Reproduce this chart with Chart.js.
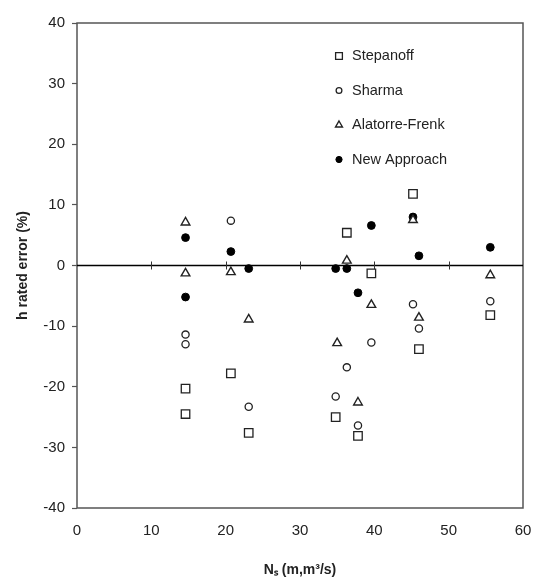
<!DOCTYPE html>
<html>
<head>
<meta charset="utf-8">
<script src="https://cdn.jsdelivr.net/npm/chart.js@4/dist/chart.umd.min.js"></script>
<style>
  html, body { margin: 0; padding: 0; background: #fff; }
  #wrap { width: 534px; height: 579px; }
</style>
</head>
<body>
<div id="wrap"><canvas id="c"></canvas></div>
<script>
'use strict';

// --- data ---
const nsValues      = [14.6, 14.6, 20.7, 23.1, 34.8, 36.3, 37.8, 39.6, 45.2, 46.0, 55.6];
const stepanoff     = [-20.3, -24.5, -17.8, -27.6, -25.0, 5.4, -28.1, -1.3, 11.8, -13.8, -8.2];
const sharmaNs      = [14.6, 14.6, 20.7, 23.1, 34.8, 36.3, 37.8, 39.6, 45.2, 46.0, 55.6];
const sharma        = [-11.4, -13.0, 7.4, -23.3, -21.6, -16.8, -26.4, -12.7, -6.4, -10.4, -5.9];
const alatorreNs    = [14.6, 14.6, 20.7, 23.1, 35.0, 36.3, 37.8, 39.6, 45.2, 46.0, 55.6];
const alatorre      = [7.1, -1.3, -1.1, -8.9, -12.8, 0.8, -22.6, -6.5, 7.5, -8.6, -1.6];
const newApproach   = [4.6, -5.2, 2.3, -0.5, -0.5, -0.5, -4.5, 6.6, 8.0, 1.6, 3.0];
const seriesNames   = ['Stepanoff', 'Sharma', 'Alatorre-Frenk', 'New Approach'];
const xTicks        = [0, 10, 20, 30, 40, 50, 60];
const yTicks        = [-40, -30, -20, -10, 0, 10, 20, 30, 40];

const pts = (xs, ys) => xs.map((x, i) => ({ x, y: ys[i] }));

const INK = '#222';
const FONT = '"Liberation Sans", Arial, sans-serif';

const datasets = [
  { label: seriesNames[0], data: pts(nsValues, stepanoff),   pointStyle: 'rect',     pointRadius: 6,   backgroundColor: '#fff', borderColor: INK, borderWidth: 1.3 },
  { label: seriesNames[1], data: pts(sharmaNs, sharma),      pointStyle: 'circle',   pointRadius: 3.6, backgroundColor: '#fff', borderColor: INK, borderWidth: 1.3 },
  { label: seriesNames[2], data: pts(alatorreNs, alatorre),  pointStyle: 'triangle', pointRadius: 5,   backgroundColor: '#fff', borderColor: INK, borderWidth: 1.4 },
  { label: seriesNames[3], data: pts(nsValues, newApproach), pointStyle: 'circle',   pointRadius: 3.9, backgroundColor: '#000', borderColor: '#000', borderWidth: 1 },
];

// frame box, zero line with ticks, and the in-plot legend
const decorations = {
  id: 'decorations',
  beforeDatasetsDraw(chart) {
    const { ctx, chartArea: a, scales: { x, y } } = chart;
    ctx.save();
    // box
    ctx.strokeStyle = '#555';
    ctx.lineWidth = 1.5;
    ctx.strokeRect(a.left, a.top, a.right - a.left, a.bottom - a.top);
    // zero line
    const y0 = y.getPixelForValue(0);
    ctx.strokeStyle = '#000';
    ctx.lineWidth = 1.4;
    ctx.beginPath();
    ctx.moveTo(a.left, y0);
    ctx.lineTo(a.right, y0);
    ctx.stroke();
    ctx.lineWidth = 1;
    ctx.strokeStyle = '#333';
    xTicks.slice(1, -1).forEach(v => {
      const px = Math.round(x.getPixelForValue(v)) + 0.5;
      ctx.beginPath();
      ctx.moveTo(px, y0 - 4);
      ctx.lineTo(px, y0 + 4);
      ctx.stroke();
    });
    ctx.restore();
  },
  afterDatasetsDraw(chart) {
    const { ctx, chartArea: a } = chart;
    const mx = a.left + 262, tx = mx + 13;
    let ry = a.top + 33;
    ctx.save();
    ctx.font = '14.5px ' + FONT;
    ctx.textBaseline = 'middle';
    chart.data.datasets.forEach(ds => {
      ctx.fillStyle = ds.backgroundColor;
      ctx.strokeStyle = ds.borderColor;
      ctx.lineWidth = ds.borderWidth;
      Chart.helpers.drawPoint(ctx, { pointStyle: ds.pointStyle, radius: ds.pointRadius * 0.8, borderWidth: ds.borderWidth }, mx, ry);
      ctx.fillStyle = INK;
      ctx.fillText(ds.label, tx, ry);
      ry += 34.5;
    });
    ctx.restore();
  }
};

new Chart(document.getElementById('c'), {
  type: 'scatter',
  data: { datasets },
  plugins: [decorations],
  options: {
    responsive: true,
    maintainAspectRatio: false,
    animation: false,
    layout: { padding: { left: 15, right: 11, top: 23, bottom: 0 } },
    plugins: { legend: { display: false }, tooltip: { enabled: false } },
    scales: {
      x: {
        type: 'linear',
        min: 0, max: 60,
        afterBuildTicks: s => { s.ticks = xTicks.map(v => ({ value: v })); },
        afterFit: s => { s.height = 71; s.paddingLeft = 0; s.paddingRight = 0; },
        grid: { display: true, drawOnChartArea: false, drawTicks: false, color: '#555' },
        border: { display: false },
        ticks: { padding: 14, color: INK, font: { family: FONT, size: 15 } },
        title: {
          display: true,
          text: 'N\u209B (m,m\u00B3/s)',
          color: INK,
          font: { family: FONT, size: 14, weight: 'bold' },
          padding: { top: 13, bottom: 0 }
        }
      },
      y: {
        min: -40, max: 40,
        afterBuildTicks: s => { s.ticks = yTicks.map(v => ({ value: v })); },
        afterFit: s => { s.width = 62; s.paddingTop = 0; s.paddingBottom = 0; },
        grid: { drawOnChartArea: false, drawTicks: true, tickLength: 5, color: '#555', tickWidth: 1.2 },
        border: { display: false },
        ticks: { padding: 7, color: INK, font: { family: FONT, size: 15 } },
        title: {
          display: true,
          text: 'h rated error (%)',
          color: INK,
          font: { family: FONT, size: 14, weight: 'bold' },
          padding: { top: 0, bottom: 4 }
        }
      }
    }
  }
});
</script>
</body>
</html>
